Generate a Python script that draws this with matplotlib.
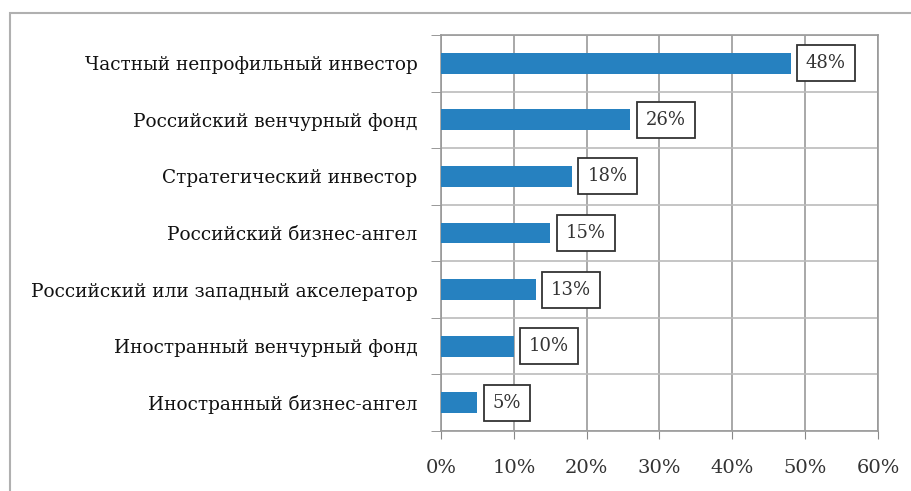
import matplotlib.pyplot as plt
import matplotlib.patches as patches
import numpy as np

categories = ["Частный непрофильный инвестор",
              "Российский венчурный фонд",
              "Стратегический инвестор",
              "Российский бизнес-ангел",
              "Российский или западный акселератор",
              "Иностранный венчурный фонд",
              "Иностранный бизнес-ангел"]
values = [48, 26, 18, 15, 13, 10, 5]
x_ticks = [0, 10, 20, 30, 40, 50, 60]

plt.rcParams['font.family'] = ['DejaVu Serif', 'Liberation Serif']

fig = plt.figure(figsize=(9.12, 4.91), dpi=100)
# outer frame of the chart area
fig.patches.append(patches.Rectangle((10 / 912, -0.1), 1.2, 1 - 13 / 491 + 0.1,
                                     transform=fig.transFigure, fill=False,
                                     edgecolor='#b0b0b0', lw=1.5))

ax = fig.add_axes([441 / 912, 1 - 431 / 491, 437 / 912, 396 / 491])
n = len(categories)
y = np.arange(n)[::-1]
ax.barh(y, values, height=0.37, color='#2681c0', zorder=3)

for yi, v in zip(y, values):
    ax.text(v + 2.1, yi, f"{v}%", va='center', ha='left', fontsize=13,
            color='#333333', zorder=4,
            bbox=dict(boxstyle='square,pad=0.5', facecolor='white',
                      edgecolor='#333333', lw=1.3))

ax.set_xlim(0, 60)
ax.set_ylim(-0.5, n - 0.5)
ax.set_xticks(x_ticks)
ax.set_xticklabels([f"{t}%" for t in x_ticks], fontsize=14, color='#333333')
ax.set_yticks(y)
ax.set_yticklabels(categories, fontsize=13.3, color='#111111')
ax.set_yticks(np.arange(n + 1) - 0.5, minor=True)
ax.tick_params(axis='y', which='major', length=0, pad=17)
ax.tick_params(axis='y', which='minor', length=7, color='#888888')
ax.tick_params(axis='x', length=6, color='#888888', pad=14)
ax.grid(axis='x', color='#999999', lw=1.2, zorder=0)
ax.grid(axis='y', which='minor', color='#bbbbbb', lw=1.2, zorder=0)
for s in ax.spines.values():
    s.set_color('#999999')
    s.set_linewidth(1.2)

fig.savefig('out.png', dpi=100)
